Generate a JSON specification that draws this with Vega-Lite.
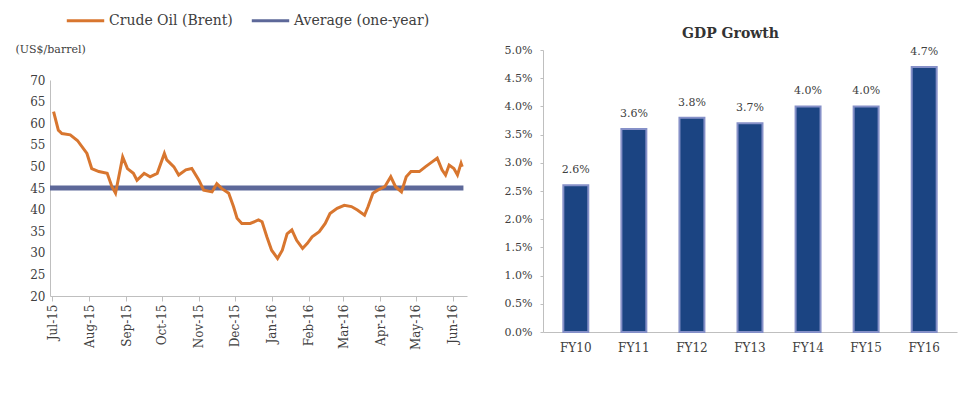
{
  "$schema": "https://vega.github.io/schema/vega-lite/v6.json",
  "padding": {"left": 15, "top": 0, "right": 2, "bottom": 2},
  "background": "white",
  "spacing": 30,
  "config": {
    "view": {"stroke": null},
    "font": "DejaVu Serif",
    "axis": {"grid": false, "domainColor": "#bfbfbf", "tickColor": "#bfbfbf", "labelColor": "#404040", "labelFont": "DejaVu Serif", "titleFont": "DejaVu Serif"},
    "legend": {"labelFont": "DejaVu Serif"}
  },
  "datasets": {
    "oil": [
      {"date": "2015-06-29", "price": 45, "series": "Average (one-year)"},
      {"date": "2016-06-10", "price": 45, "series": "Average (one-year)"},
      {"date": "2015-07-02", "price": 62.7, "series": "Crude Oil (Brent)"},
      {"date": "2015-07-06", "price": 58.4, "series": "Crude Oil (Brent)"},
      {"date": "2015-07-09", "price": 57.6, "series": "Crude Oil (Brent)"},
      {"date": "2015-07-16", "price": 57.3, "series": "Crude Oil (Brent)"},
      {"date": "2015-07-22", "price": 56.0, "series": "Crude Oil (Brent)"},
      {"date": "2015-07-30", "price": 53.0, "series": "Crude Oil (Brent)"},
      {"date": "2015-08-03", "price": 49.5, "series": "Crude Oil (Brent)"},
      {"date": "2015-08-09", "price": 48.8, "series": "Crude Oil (Brent)"},
      {"date": "2015-08-16", "price": 48.4, "series": "Crude Oil (Brent)"},
      {"date": "2015-08-20", "price": 45.3, "series": "Crude Oil (Brent)"},
      {"date": "2015-08-23", "price": 43.8, "series": "Crude Oil (Brent)"},
      {"date": "2015-08-29", "price": 52.2, "series": "Crude Oil (Brent)"},
      {"date": "2015-09-02", "price": 49.5, "series": "Crude Oil (Brent)"},
      {"date": "2015-09-07", "price": 48.4, "series": "Crude Oil (Brent)"},
      {"date": "2015-09-10", "price": 46.8, "series": "Crude Oil (Brent)"},
      {"date": "2015-09-16", "price": 48.4, "series": "Crude Oil (Brent)"},
      {"date": "2015-09-21", "price": 47.6, "series": "Crude Oil (Brent)"},
      {"date": "2015-09-27", "price": 48.4, "series": "Crude Oil (Brent)"},
      {"date": "2015-10-03", "price": 53.0, "series": "Crude Oil (Brent)"},
      {"date": "2015-10-05", "price": 51.5, "series": "Crude Oil (Brent)"},
      {"date": "2015-10-11", "price": 49.9, "series": "Crude Oil (Brent)"},
      {"date": "2015-10-15", "price": 48.0, "series": "Crude Oil (Brent)"},
      {"date": "2015-10-21", "price": 49.2, "series": "Crude Oil (Brent)"},
      {"date": "2015-10-26", "price": 49.5, "series": "Crude Oil (Brent)"},
      {"date": "2015-11-01", "price": 46.8, "series": "Crude Oil (Brent)"},
      {"date": "2015-11-05", "price": 44.5, "series": "Crude Oil (Brent)"},
      {"date": "2015-11-12", "price": 44.1, "series": "Crude Oil (Brent)"},
      {"date": "2015-11-16", "price": 46.0, "series": "Crude Oil (Brent)"},
      {"date": "2015-11-20", "price": 44.9, "series": "Crude Oil (Brent)"},
      {"date": "2015-11-26", "price": 43.8, "series": "Crude Oil (Brent)"},
      {"date": "2015-11-30", "price": 40.7, "series": "Crude Oil (Brent)"},
      {"date": "2015-12-03", "price": 38.0, "series": "Crude Oil (Brent)"},
      {"date": "2015-12-07", "price": 36.8, "series": "Crude Oil (Brent)"},
      {"date": "2015-12-14", "price": 36.8, "series": "Crude Oil (Brent)"},
      {"date": "2015-12-21", "price": 37.6, "series": "Crude Oil (Brent)"},
      {"date": "2015-12-24", "price": 37.2, "series": "Crude Oil (Brent)"},
      {"date": "2015-12-28", "price": 33.7, "series": "Crude Oil (Brent)"},
      {"date": "2016-01-01", "price": 30.6, "series": "Crude Oil (Brent)"},
      {"date": "2016-01-06", "price": 28.7, "series": "Crude Oil (Brent)"},
      {"date": "2016-01-10", "price": 30.6, "series": "Crude Oil (Brent)"},
      {"date": "2016-01-14", "price": 34.4, "series": "Crude Oil (Brent)"},
      {"date": "2016-01-18", "price": 35.3, "series": "Crude Oil (Brent)"},
      {"date": "2016-01-22", "price": 32.9, "series": "Crude Oil (Brent)"},
      {"date": "2016-01-27", "price": 31.0, "series": "Crude Oil (Brent)"},
      {"date": "2016-01-31", "price": 32.2, "series": "Crude Oil (Brent)"},
      {"date": "2016-02-04", "price": 33.7, "series": "Crude Oil (Brent)"},
      {"date": "2016-02-10", "price": 34.9, "series": "Crude Oil (Brent)"},
      {"date": "2016-02-15", "price": 36.8, "series": "Crude Oil (Brent)"},
      {"date": "2016-02-19", "price": 39.1, "series": "Crude Oil (Brent)"},
      {"date": "2016-02-25", "price": 40.3, "series": "Crude Oil (Brent)"},
      {"date": "2016-03-02", "price": 41.0, "series": "Crude Oil (Brent)"},
      {"date": "2016-03-08", "price": 40.7, "series": "Crude Oil (Brent)"},
      {"date": "2016-03-13", "price": 39.9, "series": "Crude Oil (Brent)"},
      {"date": "2016-03-19", "price": 38.7, "series": "Crude Oil (Brent)"},
      {"date": "2016-03-22", "price": 40.7, "series": "Crude Oil (Brent)"},
      {"date": "2016-03-26", "price": 43.8, "series": "Crude Oil (Brent)"},
      {"date": "2016-03-30", "price": 44.5, "series": "Crude Oil (Brent)"},
      {"date": "2016-04-05", "price": 45.3, "series": "Crude Oil (Brent)"},
      {"date": "2016-04-10", "price": 47.6, "series": "Crude Oil (Brent)"},
      {"date": "2016-04-14", "price": 45.3, "series": "Crude Oil (Brent)"},
      {"date": "2016-04-19", "price": 44.1, "series": "Crude Oil (Brent)"},
      {"date": "2016-04-23", "price": 47.6, "series": "Crude Oil (Brent)"},
      {"date": "2016-04-27", "price": 48.8, "series": "Crude Oil (Brent)"},
      {"date": "2016-05-04", "price": 48.8, "series": "Crude Oil (Brent)"},
      {"date": "2016-05-09", "price": 49.9, "series": "Crude Oil (Brent)"},
      {"date": "2016-05-15", "price": 51.1, "series": "Crude Oil (Brent)"},
      {"date": "2016-05-19", "price": 51.9, "series": "Crude Oil (Brent)"},
      {"date": "2016-05-23", "price": 49.2, "series": "Crude Oil (Brent)"},
      {"date": "2016-05-26", "price": 48.0, "series": "Crude Oil (Brent)"},
      {"date": "2016-05-29", "price": 50.3, "series": "Crude Oil (Brent)"},
      {"date": "2016-06-02", "price": 49.5, "series": "Crude Oil (Brent)"},
      {"date": "2016-06-05", "price": 48.0, "series": "Crude Oil (Brent)"},
      {"date": "2016-06-08", "price": 50.7, "series": "Crude Oil (Brent)"},
      {"date": "2016-06-09", "price": 49.9, "series": "Crude Oil (Brent)"}
    ],
    "gdp": [
      {"year": "FY10", "growth": 0.026},
      {"year": "FY11", "growth": 0.036},
      {"year": "FY12", "growth": 0.038},
      {"year": "FY13", "growth": 0.037},
      {"year": "FY14", "growth": 0.040},
      {"year": "FY15", "growth": 0.040},
      {"year": "FY16", "growth": 0.047}
    ]
  },
  "hconcat": [
    {
      "width": 417,
      "height": 246,
      "data": {"name": "oil"},
      "encoding": {
        "x": {
          "field": "date", "type": "temporal",
          "scale": {"type": "utc", "domain": ["2015-06-29", "2016-06-13"]},
          "axis": {"title": null, "format": "%b-%y", "tickCount": {"interval": "month", "step": 1}, "labelAngle": -90, "labelFontSize": 12, "tickSize": 5, "labelPadding": 3}
        },
        "y": {
          "field": "price", "type": "quantitative",
          "scale": {"domain": [20, 70], "nice": false, "zero": false, "range": [246, 30]},
          "axis": {"title": "(US$/barrel)", "titleAngle": 0, "titleAlign": "left", "titleBaseline": "alphabetic", "titleX": -35, "titleY": 2, "titleFontSize": 11, "titleFontWeight": "normal", "titleColor": "#404040", "values": [20, 25, 30, 35, 40, 45, 50, 55, 60, 65, 70], "labelFontSize": 12, "ticks": false, "labelPadding": 5}
        },
        "color": {
          "field": "series", "type": "nominal",
          "scale": {"domain": ["Crude Oil (Brent)", "Average (one-year)"], "range": ["#d8762f", "#5d6899"]},
          "legend": {"title": null, "orient": "none", "legendX": 15, "legendY": -50, "direction": "horizontal", "symbolType": "stroke", "symbolSize": 1400, "symbolStrokeWidth": 3, "labelFontSize": 14, "labelColor": "#404040", "labelOffset": 3, "columnPadding": 12}
        }
      },
      "layer": [
        {"transform": [{"filter": "datum.series == 'Average (one-year)'"}], "mark": {"type": "line", "strokeWidth": 5}},
        {"transform": [{"filter": "datum.series == 'Crude Oil (Brent)'"}], "mark": {"type": "line", "strokeWidth": 3}}
      ]
    },
    {
      "width": 414,
      "height": 282,
      "data": {"name": "gdp"},
      "title": {"text": "GDP Growth", "font": "DejaVu Serif", "fontSize": 14, "fontWeight": "bold", "color": "#333333", "anchor": "middle", "frame": "bounds", "offset": 3},
      "encoding": {
        "x": {"field": "year", "type": "nominal", "sort": null, "scale": {"paddingInner": 0.57, "paddingOuter": 0.35}, "axis": {"title": null, "labelAngle": 0, "labelFontSize": 12, "ticks": false, "labelPadding": 10}},
        "y": {"field": "growth", "type": "quantitative", "scale": {"domain": [0, 0.05], "nice": false}, "axis": {"title": null, "format": ".1%", "values": [0, 0.005, 0.01, 0.015, 0.02, 0.025, 0.03, 0.035, 0.04, 0.045, 0.05], "labelFontSize": 11, "tickSize": 3, "labelPadding": 8}}
      },
      "layer": [
        {"mark": {"type": "bar", "fill": "#1b4482", "stroke": "#8590c8", "strokeWidth": 2}},
        {"mark": {"type": "text", "baseline": "bottom", "dy": -10, "fontSize": 11, "color": "#404040", "font": "DejaVu Serif"}, "encoding": {"text": {"field": "growth", "type": "quantitative", "format": ".1%"}}}
      ]
    }
  ]
}
